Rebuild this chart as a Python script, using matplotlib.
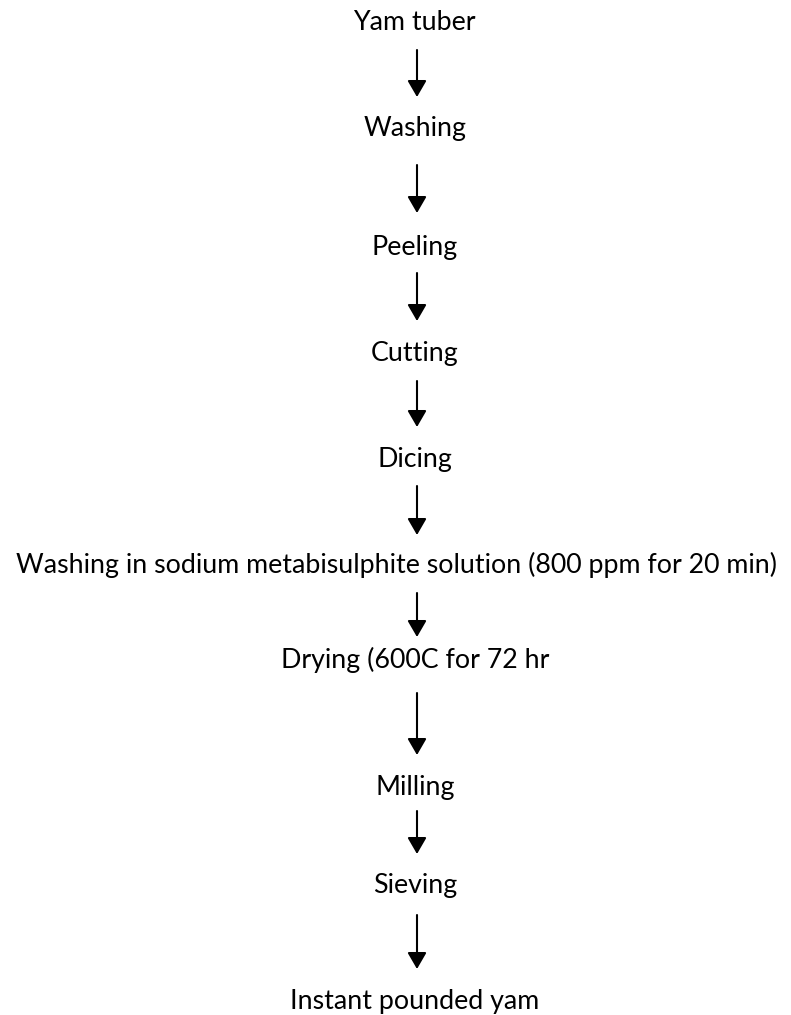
import matplotlib
matplotlib.use("Agg")
import matplotlib.pyplot as plt

steps = [
    "Yam tuber",
    "Washing",
    "Peeling",
    "Cutting",
    "Dicing",
    "Washing in sodium metabisulphite solution (800 ppm for 20 min)",
    "Drying (600C for 72 hr",
    "Milling",
    "Sieving",
    "Instant pounded yam",
]

# layout (pixel rows of each label, and of the arrows between them)
label_y = [22, 128, 247, 353, 460, 565, 660, 787, 885, 1002]
label_x = [414, 415, 415, 415, 415, 397, 415, 415, 415, 415]
arrow_spans = [(50, 97), (165, 213), (273, 321), (381, 427), (486, 535),
               (593, 637), (693, 755), (811, 854), (915, 969)]
arrow_x = 417

W, H = 791, 1015
fig = plt.figure(figsize=(W / 100, H / 100), dpi=100)
ax = fig.add_axes([0, 0, 1, 1])
ax.set_xlim(0, W)
ax.set_ylim(H, 0)
ax.axis("off")

for txt, x, y in zip(steps, label_x, label_y):
    ax.text(x, y, txt, ha="center", va="center", fontsize=19.3,
            family="Lato", color="black")

for y0, y1 in arrow_spans:
    ax.annotate("", xy=(arrow_x, y1), xytext=(arrow_x, y0),
                arrowprops=dict(arrowstyle="-|>,head_length=1.0,head_width=0.58",
                                color="black", lw=1.5, shrinkA=0, shrinkB=0))

fig.savefig("out.png", dpi=100, facecolor="white")
